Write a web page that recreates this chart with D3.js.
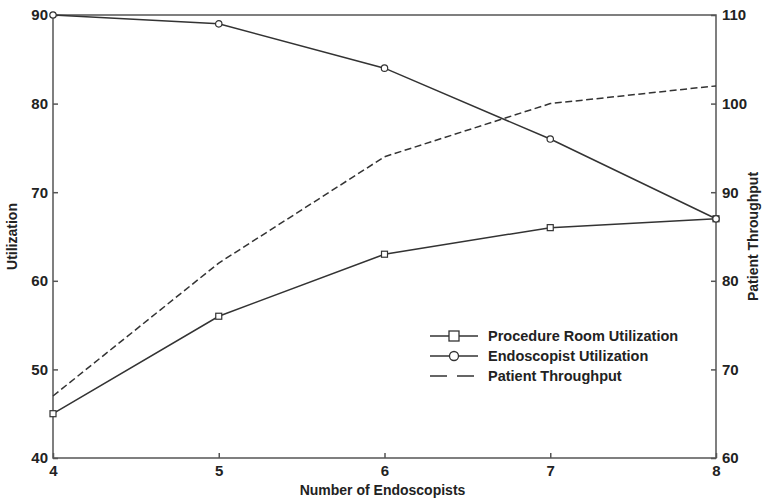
<!DOCTYPE html>
<html>
<head>
<meta charset="utf-8">
<script src="https://cdn.jsdelivr.net/npm/d3@7"></script>
<style>
  body { margin: 0; background: #fff; }
  text { font-family: "Liberation Sans", Arial, sans-serif; fill: #222; }
  .axis path, .axis line { stroke: #555; stroke-width: 1.5; }
  .axis text { font-size: 15px; font-weight: bold; }
</style>
</head>
<body>
<script>
const endoscopists = [4, 5, 6, 7, 8];
const roomUtil = [45, 56, 63, 66, 67];
const endoUtil = [90, 89, 84, 76, 67];
const throughput = [67, 82, 94, 100, 102];
const leftTicks = [40, 50, 60, 70, 80, 90];
const rightTicks = [60, 70, 80, 90, 100, 110];

const width = 763, height = 500;
const margin = {top: 15, right: 47, bottom: 42, left: 53};
const w = width - margin.left - margin.right,
    h = height - margin.top - margin.bottom;

const svg = d3.select("body").append("svg")
    .attr("width", width)
    .attr("height", height);

const g = svg.append("g")
    .attr("transform", "translate(" + margin.left + "," + margin.top + ")");

const x = d3.scaleLinear().domain([4, 8]).range([0, w]);
const yL = d3.scaleLinear().domain([40, 90]).range([h, 0]);
const yR = d3.scaleLinear().domain([60, 110]).range([h, 0]);

// frame
g.append("rect")
    .attr("width", w).attr("height", h)
    .attr("fill", "none").attr("stroke", "#555").attr("stroke-width", 1.5);

g.append("g").attr("class", "axis")
    .attr("transform", "translate(0," + h + ")")
    .call(d3.axisBottom(x).tickValues(endoscopists).tickFormat(d3.format("d")).tickSize(-5).tickPadding(7))
    .call(a => a.select(".domain").remove());

g.append("g").attr("class", "axis")
    .call(d3.axisLeft(yL).tickValues(leftTicks).tickSize(-5).tickPadding(5))
    .call(a => a.select(".domain").remove());

g.append("g").attr("class", "axis")
    .attr("transform", "translate(" + w + ",0)")
    .call(d3.axisRight(yR).tickValues(rightTicks).tickSize(-5).tickPadding(6))
    .call(a => a.select(".domain").remove());

svg.append("text")
    .attr("x", margin.left + w / 2 - 2).attr("y", height - 5)
    .attr("text-anchor", "middle")
    .style("font-size", "14px").style("font-weight", "bold")
    .text("Number of Endoscopists");

svg.append("text")
    .attr("transform", "translate(17," + (margin.top + h / 2) + ") rotate(-90)")
    .attr("text-anchor", "middle")
    .style("font-size", "14px").style("font-weight", "bold")
    .text("Utilization");

svg.append("text")
    .attr("transform", "translate(758," + (margin.top + h / 2) + ") rotate(-90)")
    .attr("text-anchor", "middle")
    .style("font-size", "14px").style("font-weight", "bold")
    .text("Patient Throughput");

const lineL = d3.line().x((d, i) => x(endoscopists[i])).y(d => yL(d));
const lineR = d3.line().x((d, i) => x(endoscopists[i])).y(d => yR(d));

const stroke = "#333";

g.append("path").datum(throughput)
    .attr("d", lineR).attr("fill", "none")
    .attr("stroke", stroke).attr("stroke-width", 1.5)
    .attr("stroke-dasharray", "7,3.5");

g.append("path").datum(roomUtil)
    .attr("d", lineL).attr("fill", "none")
    .attr("stroke", stroke).attr("stroke-width", 1.5);

g.append("path").datum(endoUtil)
    .attr("d", lineL).attr("fill", "none")
    .attr("stroke", stroke).attr("stroke-width", 1.5);

g.selectAll(".sq").data(roomUtil).enter().append("rect")
    .attr("x", (d, i) => x(endoscopists[i]) - 3)
    .attr("y", d => yL(d) - 3)
    .attr("width", 6).attr("height", 6)
    .attr("fill", "#fff").attr("stroke", stroke).attr("stroke-width", 1.2);

g.selectAll(".ci").data(endoUtil).enter().append("circle")
    .attr("cx", (d, i) => x(endoscopists[i]))
    .attr("cy", d => yL(d))
    .attr("r", 3.2)
    .attr("fill", "#fff").attr("stroke", stroke).attr("stroke-width", 1.2);

// legend
const legend = [
  {label: "Procedure Room Utilization", mark: "square", dash: null},
  {label: "Endoscopist Utilization", mark: "circle", dash: null},
  {label: "Patient Throughput", mark: null, dash: "17,10"}
];
const lg = svg.append("g").attr("transform", "translate(430,336)");
legend.forEach((d, i) => {
  const row = lg.append("g").attr("transform", "translate(0," + i * 20 + ")");
  row.append("line").attr("x1", 0).attr("x2", 48)
      .attr("stroke", stroke).attr("stroke-width", 1.7)
      .attr("stroke-dasharray", d.dash);
  if (d.mark === "square")
    row.append("rect").attr("x", -5 + 24).attr("y", -5).attr("width", 10).attr("height", 10)
        .attr("fill", "#fff").attr("stroke", stroke).attr("stroke-width", 1.3);
  if (d.mark === "circle")
    row.append("circle").attr("cx", 24).attr("r", 4.5)
        .attr("fill", "#fff").attr("stroke", stroke).attr("stroke-width", 1.3);
  row.append("text").attr("x", 58).attr("dy", "0.35em")
      .style("font-size", "14.5px").style("font-weight", "bold")
      .text(d.label);
});
</script>
</body>
</html>
